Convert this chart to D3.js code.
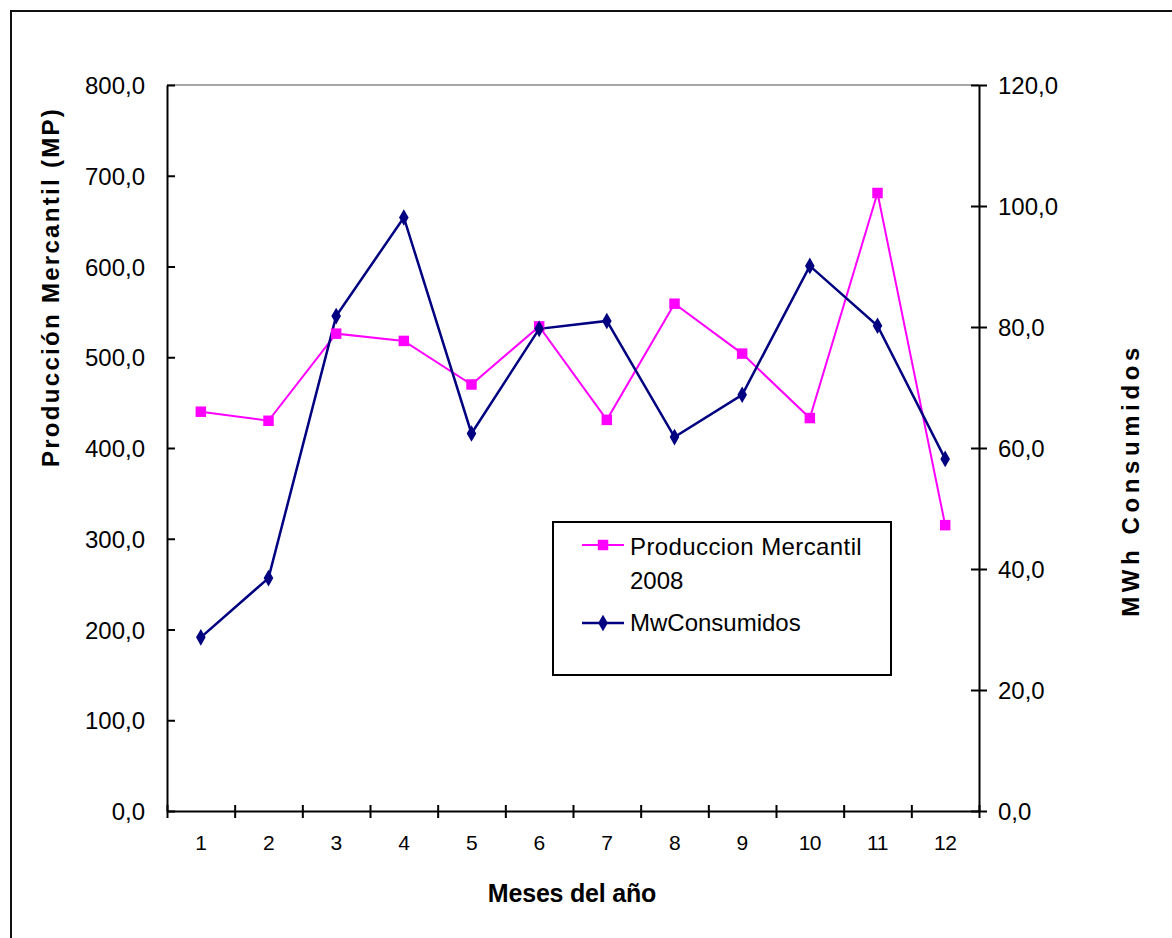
<!DOCTYPE html>
<html>
<head>
<meta charset="utf-8">
<script src="https://cdn.jsdelivr.net/npm/d3@7"></script>
<style>
  html, body { margin: 0; padding: 0; background: #fff; }
  svg { display: block; }
  text { font-family: "Liberation Sans", Arial, sans-serif; fill: #000; }
</style>
</head>
<body>
<svg id="chart" width="1172" height="938"></svg>
<script>
// Monthly data, 2008
const months = ["1", "2", "3", "4", "5", "6", "7", "8", "9", "10", "11", "12"];
const produccion = [440, 430, 526, 518, 470, 534, 431, 559, 504, 433, 681, 315];
const mwConsumidos = [28.7, 38.5, 81.8, 98.1, 62.4, 79.7, 81.0, 61.8, 68.8, 90.1, 80.2, 58.2];
const leftTicks = [0, 100, 200, 300, 400, 500, 600, 700, 800];
const rightTicks = [0, 20, 40, 60, 80, 100, 120];
const seriesNames = ["Produccion Mercantil", "2008", "MwConsumidos"];

const svg = d3.select("#chart");
const plot = { left: 167, right: 979, top: 85, bottom: 811 };

const locale = d3.formatLocale({ decimal: ",", thousands: ".", grouping: [3], currency: ["", ""] });
const fmt = locale.format(".1f");

const x = d3.scaleBand().domain(months).range([plot.left, plot.right]).paddingInner(0).paddingOuter(0);
const xEdges = d3.scaleLinear().domain([0, months.length]).range([plot.left, plot.right]);
const yL = d3.scaleLinear().domain([0, 800]).range([plot.bottom, plot.top]);
const yR = d3.scaleLinear().domain([0, 120]).range([plot.bottom, plot.top]);

// outer frame
svg.append("rect")
  .attr("x", 11).attr("y", 11).attr("width", 1300).attr("height", 1100)
  .attr("fill", "none").attr("stroke", "#111").attr("stroke-width", 2);

// plot area top edge
svg.append("line")
  .attr("x1", plot.left).attr("x2", plot.right)
  .attr("y1", plot.top).attr("y2", plot.top)
  .attr("stroke", "#8a8a8a").attr("stroke-width", 1.5);

function styleAxis(g) {
  g.select(".domain").attr("stroke", "#000").attr("stroke-width", 2);
  g.selectAll(".tick line").attr("stroke", "#000").attr("stroke-width", 2);
}

// left axis
const gL = svg.append("g").attr("transform", `translate(${plot.left},0)`)
  .call(d3.axisLeft(yL).tickValues(leftTicks).tickFormat(fmt).tickSizeOuter(0).tickSizeInner(8).tickPadding(14));
styleAxis(gL);
gL.selectAll(".tick line").attr("x2", 8);
gL.selectAll(".tick text").attr("font-size", 24).attr("font-family", "Liberation Sans, Arial, sans-serif").attr("dy", "0.36em");

// right axis
const gR = svg.append("g").attr("transform", `translate(${plot.right},0)`)
  .call(d3.axisRight(yR).tickValues(rightTicks).tickFormat(fmt).tickSizeOuter(0).tickSizeInner(8).tickPadding(11));
styleAxis(gR);
gR.selectAll(".tick line").attr("x1", -8);
gR.selectAll(".tick text").attr("font-size", 24).attr("font-family", "Liberation Sans, Arial, sans-serif").attr("dy", "0.36em");

// bottom axis: tick marks between months, labels centred under each month
const gB = svg.append("g").attr("transform", `translate(0,${plot.bottom})`)
  .call(d3.axisBottom(xEdges).ticks(months.length).tickFormat("").tickSizeOuter(0).tickSizeInner(7));
styleAxis(gB);
gB.selectAll(".tick line").attr("y1", -6);
const gBL = svg.append("g").attr("transform", `translate(0,${plot.bottom})`)
  .call(d3.axisBottom(x).tickSize(0).tickPadding(24));
gBL.select(".domain").remove();
gBL.selectAll(".tick text").attr("font-size", 21).attr("font-family", "Liberation Sans, Arial, sans-serif").attr("letter-spacing", -0.5);

// lines
const linePink = d3.line().x((d, i) => x(months[i]) + x.bandwidth() / 2).y(d => yL(d));
const lineNavy = d3.line().x((d, i) => x(months[i]) + x.bandwidth() / 2).y(d => yR(d));

svg.append("path").datum(produccion)
  .attr("d", linePink).attr("fill", "none").attr("stroke", "#ff00ff").attr("stroke-width", 2);
svg.append("path").datum(mwConsumidos)
  .attr("d", lineNavy).attr("fill", "none").attr("stroke", "#000080").attr("stroke-width", 2.5);

const sq = d3.symbol().type(d3.symbolSquare).size(110);
const dia = d3.symbol().type(d3.symbolDiamond).size(80);

svg.append("g").selectAll("path").data(produccion).join("path")
  .attr("d", sq)
  .attr("transform", (d, i) => `translate(${x(months[i]) + x.bandwidth() / 2},${yL(d)})`)
  .attr("fill", "#ff00ff");
svg.append("g").selectAll("path").data(mwConsumidos).join("path")
  .attr("d", dia)
  .attr("transform", (d, i) => `translate(${x(months[i]) + x.bandwidth() / 2},${yR(d)})`)
  .attr("fill", "#000080");

// axis titles
svg.append("text")
  .attr("transform", "translate(59,287) rotate(-90)")
  .attr("text-anchor", "middle")
  .attr("font-size", 24).attr("font-weight", "bold").attr("letter-spacing", 2.3)
  .text("Producción Mercantil (MP)");
svg.append("text")
  .attr("transform", "translate(1139,480) rotate(-90)")
  .attr("text-anchor", "middle")
  .attr("font-size", 24).attr("font-weight", "bold").attr("letter-spacing", 4.6)
  .text("MWh Consumidos");
svg.append("text")
  .attr("x", 572).attr("y", 902)
  .attr("text-anchor", "middle")
  .attr("font-size", 25).attr("font-weight", "bold").attr("letter-spacing", -0.2)
  .text("Meses del año");

// legend
const lg = svg.append("g");
lg.append("rect").attr("x", 553).attr("y", 522).attr("width", 338).attr("height", 153)
  .attr("fill", "#fff").attr("stroke", "#000").attr("stroke-width", 2);
lg.append("line").attr("x1", 582).attr("x2", 624).attr("y1", 545).attr("y2", 545)
  .attr("stroke", "#ff00ff").attr("stroke-width", 2);
lg.append("path").attr("d", sq).attr("transform", "translate(603,545)").attr("fill", "#ff00ff");
lg.append("line").attr("x1", 582).attr("x2", 624).attr("y1", 623).attr("y2", 623)
  .attr("stroke", "#000080").attr("stroke-width", 2.5);
lg.append("path").attr("d", dia).attr("transform", "translate(603,623)").attr("fill", "#000080");
lg.append("text").attr("x", 630).attr("y", 555).attr("font-size", 24).attr("letter-spacing", 0.4).text(seriesNames[0]);
lg.append("text").attr("x", 630).attr("y", 589).attr("font-size", 24).text(seriesNames[1]);
lg.append("text").attr("x", 630).attr("y", 631).attr("font-size", 24).text(seriesNames[2]);
</script>
</body>
</html>
